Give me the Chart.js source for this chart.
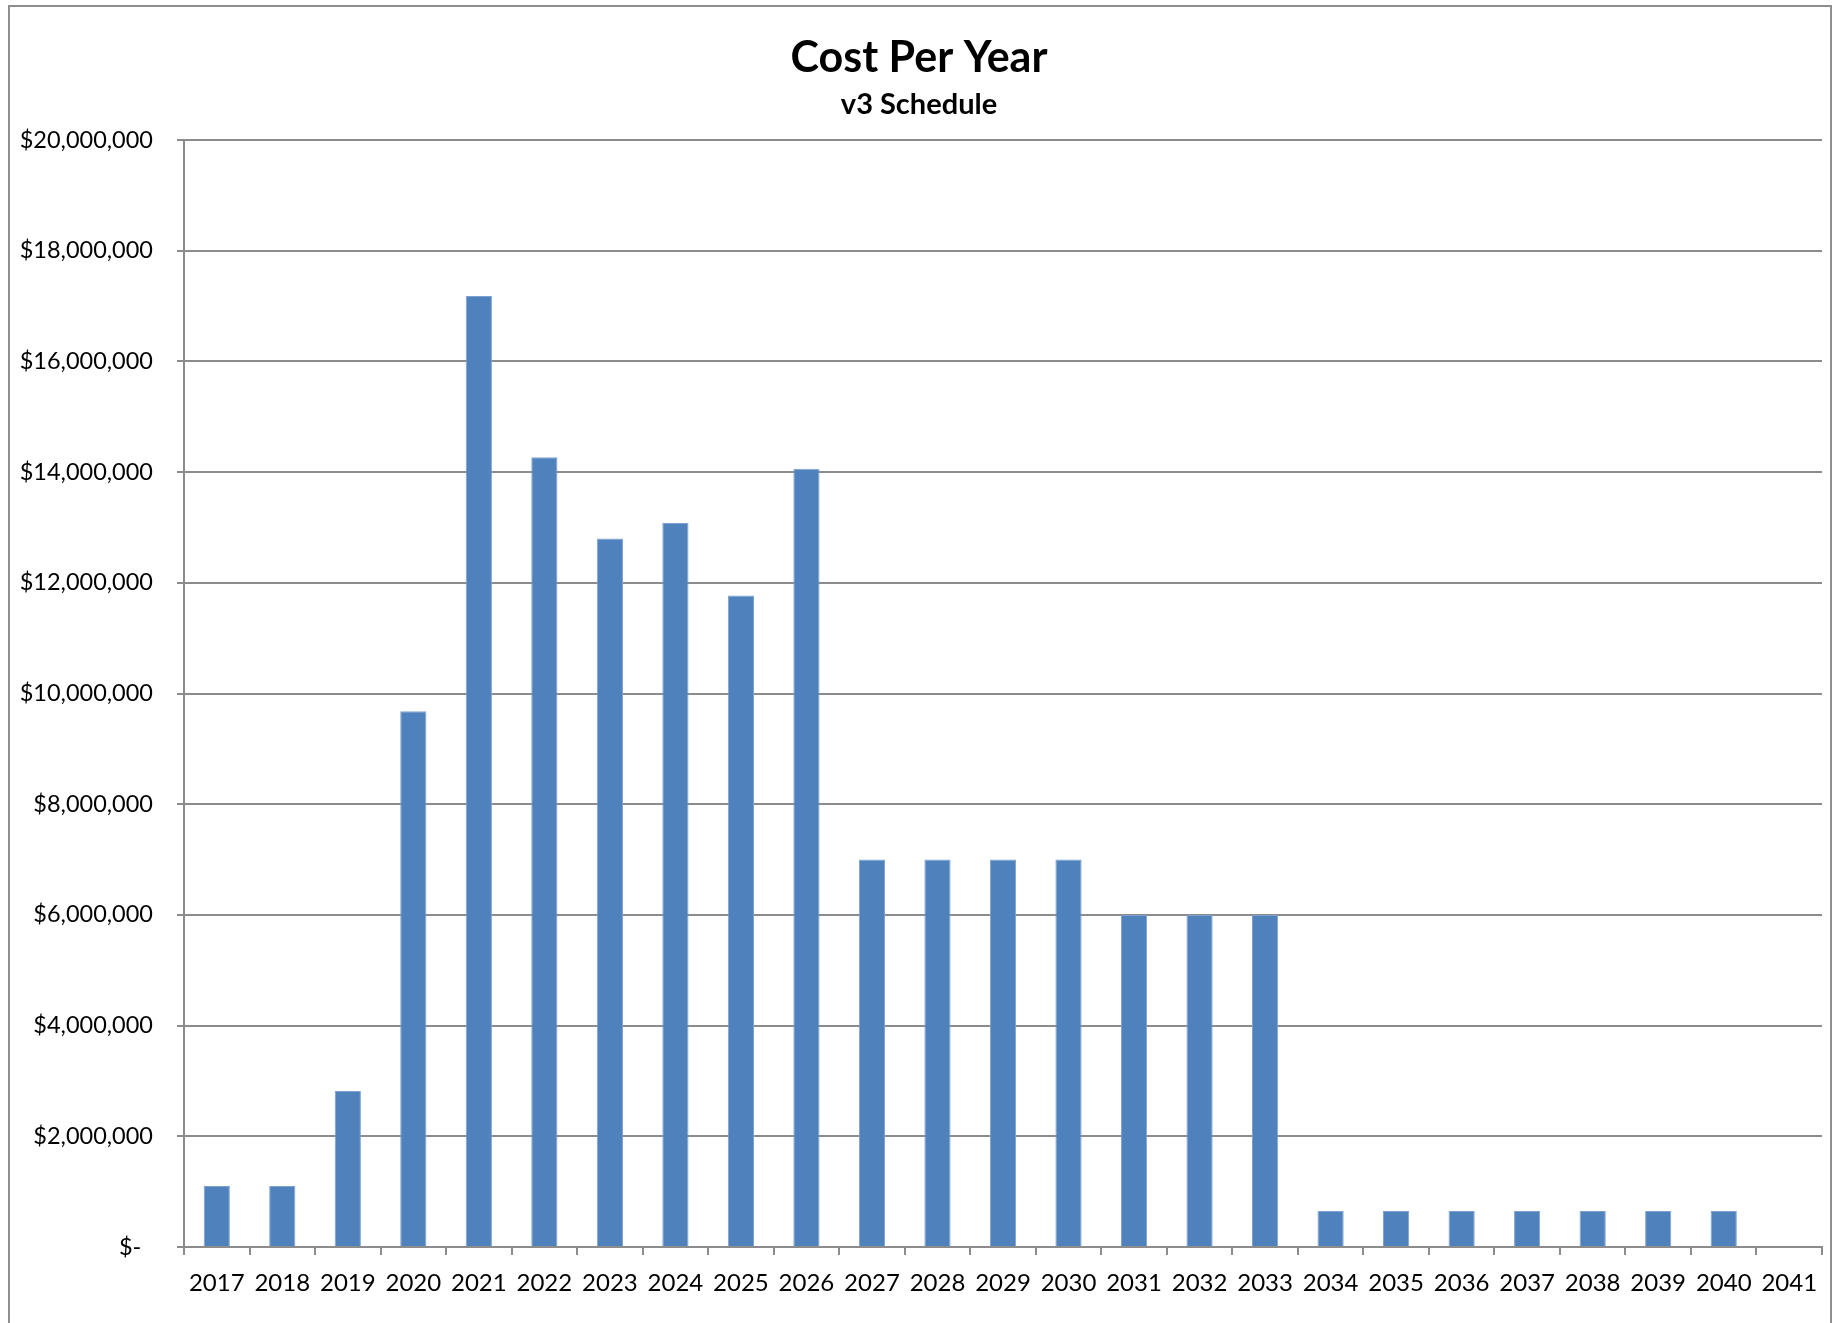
<!DOCTYPE html>
<html lang="en">
<head>
	<meta charset="UTF-8"/>
	<title>Cost Per Year</title>
	<script src="https://cdn.jsdelivr.net/npm/chart.js"></script>
	<style>
		body {
			margin: 0;
			background: #ffffff;
			overflow: hidden;
		}
		.wrap {
			position: relative;
			width: 1843px;
			height: 1323px;
		}
		.frame {
			position: absolute;
			left: 8px;
			top: 5px;
			width: 1820px;
			height: 1340px;
			border: 2px solid #8e8e8e;
			pointer-events: none;
		}
	</style>
</head>
<body>
<div class="wrap">
	<canvas id="myChart"></canvas>
	<div class="frame"></div>
</div>

<script>
	const years = ["2017", "2018", "2019", "2020", "2021", "2022", "2023", "2024", "2025",
		"2026", "2027", "2028", "2029", "2030", "2031", "2032", "2033", "2034", "2035",
		"2036", "2037", "2038", "2039", "2040", "2041"];

	const costs = [1100000, 1100000, 2820000, 9680000, 17180000, 14270000, 12800000, 13080000,
		11770000, 14060000, 7000000, 7000000, 7000000, 7000000, 6000000, 6000000, 6000000,
		650000, 650000, 650000, 650000, 650000, 650000, 650000, 0];

	const yMax = 20000000;
	const yStep = 2000000;

	const titleText = "Cost Per Year";
	const subtitleText = "v3 Schedule";

	const fontName = "Lato, 'Open Sans', sans-serif";
	const gray = "#8c8c8c";

	function money(v) {
		if (v === 0) return "$-\u2002";
		return "$" + v.toLocaleString("en-US");
	}

	const ctx = document.getElementById("myChart").getContext("2d");
	const myChart = new Chart(ctx, {
		type: "bar",
		data: {
			labels: years,
			datasets: [{
				label: "Cost",
				data: costs,
				backgroundColor: "#4f81bd",
				borderColor: "#7ea2cf",
				borderWidth: 1,
				barPercentage: 0.4,
				categoryPercentage: 1.0
			}]
		},
		options: {
			responsive: true,
			maintainAspectRatio: false,
			animation: false,
			layout: {
				padding: { top: 20, right: 21, bottom: 0, left: 16 }
			},
			plugins: {
				legend: { display: false },
				tooltip: { enabled: false },
				title: {
					display: true,
					text: titleText,
					color: "#000000",
					font: { family: fontName, size: 43, weight: "bold" },
					padding: { top: 12.5, bottom: 3 }
				},
				subtitle: {
					display: true,
					text: subtitleText,
					color: "#000000",
					font: { family: fontName, size: 29, weight: "bold" },
					padding: { top: 0, bottom: 18.1 }
				}
			},
			scales: {
				x: {
					offset: true,
					grid: {
						offset: true,
						drawOnChartArea: false,
						drawTicks: true,
						tickLength: 8,
						color: gray,
						lineWidth: 2
					},
					border: { color: gray, width: 2 },
					ticks: {
						color: "#000000",
						font: { family: fontName, size: 24 },
						padding: 14,
						maxRotation: 0,
						autoSkip: false
					},
					afterFit: function (scale) { scale.height = 76; }
				},
				y: {
					min: 0,
					max: yMax,
					grid: {
						color: gray,
						lineWidth: 2,
						drawTicks: true,
						tickLength: 7
					},
					border: { color: gray, width: 2 },
					ticks: {
						stepSize: yStep,
						color: "#000000",
						font: { family: fontName, size: 23.5 },
						padding: 24,
						callback: function (value) { return money(value); }
					},
					afterFit: function (scale) { scale.width = 168; }
				}
			}
		}
	});
</script>
</body>
</html>
